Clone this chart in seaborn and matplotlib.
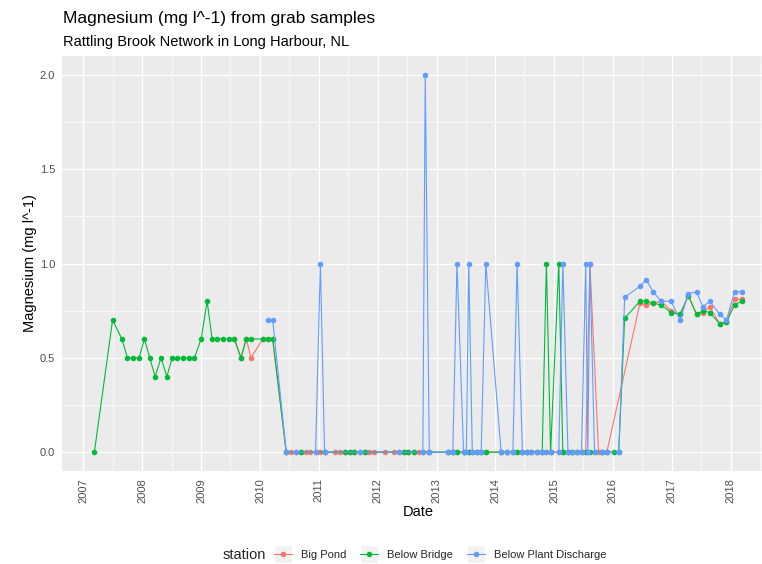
import numpy as np
import pandas as pd
import matplotlib
matplotlib.use("Agg")
import matplotlib.pyplot as plt
import matplotlib.dates as mdates
from matplotlib.lines import Line2D
from matplotlib.patches import Rectangle
import seaborn as sns

# ---------------- data ----------------
stations = ["Big Pond", "Below Bridge", "Below Plant Discharge"]
colors = ["#F8766D", "#00BA38", "#619CFF"]

below_bridge_dates = [
    "2007-03-10", "2007-07-01", "2007-08-28", "2007-10-01", "2007-11-06", "2007-12-12",
    "2008-01-15", "2008-02-17", "2008-03-21", "2008-04-27", "2008-06-02", "2008-07-05",
    "2008-08-07", "2008-09-12", "2008-10-19", "2008-11-20", "2009-01-01", "2009-02-07",
    "2009-03-10", "2009-04-12", "2009-05-19", "2009-06-24", "2009-07-26", "2009-09-05",
    "2009-10-08", "2009-11-06", "2010-01-19", "2010-02-17", "2010-03-21", "2010-06-13",
    "2010-09-14", "2011-02-06", "2011-06-14", "2011-07-13", "2011-08-10", "2011-10-12",
    "2012-06-13", "2012-07-11", "2012-08-15", "2012-11-17",
    "2013-03-15", "2013-04-12", "2013-05-08", "2013-06-18", "2013-07-20", "2013-08-11",
    "2013-09-12", "2013-10-05", "2013-11-03", "2014-02-06", "2014-03-12", "2014-04-20",
    "2014-05-16", "2014-06-18", "2014-07-16", "2014-08-13", "2014-09-17", "2014-10-19",
    "2014-11-14", "2014-12-10", "2015-01-30", "2015-02-24",
    "2015-03-28", "2015-04-22", "2015-05-20", "2015-06-20", "2015-07-16", "2015-08-11",
    "2015-09-09", "2015-10-28", "2015-11-24", "2016-01-10", "2016-02-06",
    "2016-03-14", "2016-06-17", "2016-07-26", "2016-09-06", "2016-10-27", "2016-12-27",
    "2017-02-21", "2017-04-13", "2017-06-03", "2017-07-13", "2017-08-24", "2017-10-26",
    "2017-12-06", "2018-01-25", "2018-03-10",
]
below_bridge_mg = [
    0.0, 0.7, 0.6, 0.5, 0.5, 0.5,
    0.6, 0.5, 0.4, 0.5, 0.4, 0.5,
    0.5, 0.5, 0.5, 0.5, 0.6, 0.8,
    0.6, 0.6, 0.6, 0.6, 0.6, 0.5,
    0.6, 0.6, 0.6, 0.6, 0.6, 0.0,
    0.0, 0.0, 0.0, 0.0, 0.0, 0.0,
    0.0, 0.0, 0.0, 0.0,
    0.0, 0.0, 0.0, 0.0, 0.0, 0.0,
    0.0, 0.0, 0.0, 0.0, 0.0, 0.0,
    0.0, 0.0, 0.0, 0.0, 0.0, 0.0,
    1.0, 0.0, 1.0, 0.0,
    0.0, 0.0, 0.0, 0.0, 0.0, 0.0,
    0.0, 0.0, 0.0, 0.0, 0.0,
    0.71, 0.80, 0.80, 0.79, 0.78, 0.74,
    0.73, 0.83, 0.73, 0.75, 0.74, 0.68,
    0.69, 0.78, 0.80,
]

big_pond_dates = [
    "2009-07-26", "2009-09-05", "2009-10-08", "2009-11-06", "2010-01-19", "2010-02-17",
    "2010-03-21", "2010-06-13", "2010-07-14", "2010-08-12", "2010-09-14", "2010-10-13",
    "2010-11-10", "2010-12-12", "2011-01-11", "2011-02-06", "2011-04-14", "2011-05-12",
    "2011-06-14", "2011-07-13", "2011-08-10", "2011-09-14", "2011-10-12", "2011-11-09",
    "2011-12-07", "2012-02-15", "2012-04-11", "2012-05-16", "2012-06-13", "2012-07-11",
    "2012-08-15", "2012-09-12", "2012-10-08", "2012-11-17", "2013-03-15", "2013-04-12",
    "2013-05-08", "2013-06-18", "2013-07-20", "2013-08-11", "2013-09-12", "2013-10-05",
    "2013-11-03", "2014-02-06", "2014-03-12", "2014-04-20", "2014-05-16", "2014-06-18",
    "2014-07-16", "2014-08-13", "2014-09-17", "2014-10-19", "2014-11-14", "2014-12-10",
    "2015-01-30", "2015-02-24", "2015-03-28", "2015-04-22", "2015-05-20", "2015-06-20",
    "2015-07-16", "2015-08-11", "2015-10-04", "2015-10-28", "2015-11-24", "2016-06-17",
    "2016-07-26", "2016-09-06", "2016-10-27", "2016-12-27", "2017-02-21", "2017-04-13",
    "2017-06-03", "2017-07-13", "2017-08-24", "2017-10-26", "2017-12-06", "2018-01-25",
    "2018-03-10",
]
big_pond_mg = [
    0.6, 0.5, 0.6, 0.5, 0.6, 0.6,
    0.6, 0.0, 0.0, 0.0, 0.0, 0.0,
    0.0, 0.0, 0.0, 0.0, 0.0, 0.0,
    0.0, 0.0, 0.0, 0.0, 0.0, 0.0,
    0.0, 0.0, 0.0, 0.0, 0.0, 0.0,
    0.0, 0.0, 0.0, 0.0, 0.0, 0.0,
    0.0, 0.0, 0.0, 0.0, 0.0, 0.0,
    0.0, 0.0, 0.0, 0.0, 0.0, 0.0,
    0.0, 0.0, 0.0, 0.0, 0.0, 0.0,
    0.0, 0.0, 0.0, 0.0, 0.0, 0.0,
    0.0, 1.0, 0.0, 0.0, 0.0, 0.79,
    0.78, 0.79, 0.80, 0.75, 0.73, 0.83,
    0.73, 0.74, 0.77, 0.68, 0.69, 0.81,
    0.81,
]

plant_discharge_dates = [
    "2010-02-17", "2010-03-21", "2010-06-13", "2010-08-12", "2010-12-12", "2011-01-11",
    "2011-02-06", "2011-09-14", "2012-05-16", "2012-10-08", "2012-10-23", "2012-11-17",
    "2013-03-15", "2013-04-12", "2013-05-08", "2013-06-18", "2013-07-05", "2013-07-20",
    "2013-08-11", "2013-09-12", "2013-10-05", "2013-11-03", "2014-02-06", "2014-03-12",
    "2014-04-20", "2014-05-16", "2014-06-18", "2014-07-16", "2014-08-13", "2014-09-17",
    "2014-10-19", "2014-11-14", "2014-12-10", "2015-01-30", "2015-02-24", "2015-03-28",
    "2015-04-22", "2015-05-20", "2015-06-20", "2015-07-16", "2015-07-29", "2015-08-11",
    "2015-09-09", "2015-10-28", "2015-11-24", "2016-02-06", "2016-03-14", "2016-06-17",
    "2016-07-26", "2016-09-06", "2016-10-27", "2016-12-27", "2017-02-21", "2017-04-13",
    "2017-06-03", "2017-07-13", "2017-08-24", "2017-10-26", "2017-12-06", "2018-01-25",
    "2018-03-10",
]
plant_discharge_mg = [
    0.7, 0.7, 0.0, 0.0, 0.0, 1.0,
    0.0, 0.0, 0.0, 0.0, 2.0, 0.0,
    0.0, 0.0, 1.0, 0.0, 0.0, 1.0,
    0.0, 0.0, 0.0, 1.0, 0.0, 0.0,
    0.0, 1.0, 0.0, 0.0, 0.0, 0.0,
    0.0, 0.0, 0.0, 0.0, 1.0, 0.0,
    0.0, 0.0, 0.0, 1.0, 0.0, 1.0,
    0.0, 0.0, 0.0, 0.0, 0.82, 0.88,
    0.915, 0.85, 0.80, 0.80, 0.70, 0.84,
    0.85, 0.77, 0.80, 0.73, 0.70, 0.85,
    0.85,
]

title = "Magnesium (mg l^-1) from grab samples"
subtitle = "Rattling Brook Network in Long Harbour, NL"
y_label = "Magnesium (mg l^-1)"
x_label = "Date"
legend_title = "station"
y_ticks = [0.0, 0.5, 1.0, 1.5, 2.0]
y_tick_labels = ["0.0", "0.5", "1.0", "1.5", "2.0"]

# ---------------- assemble table ----------------
frames = []
for name, d, v in [
    ("Big Pond", big_pond_dates, big_pond_mg),
    ("Below Bridge", below_bridge_dates, below_bridge_mg),
    ("Below Plant Discharge", plant_discharge_dates, plant_discharge_mg),
]:
    assert len(d) == len(v), name
    frames.append(pd.DataFrame({"date": pd.to_datetime(d), "mg": v, "station": name}))
df = pd.concat(frames, ignore_index=True)

# ---------------- figure ----------------
sns.set_style("darkgrid", {"axes.facecolor": "#EBEBEB", "grid.color": "white"})
plt.rcParams["font.family"] = ["Liberation Sans", "DejaVu Sans"]

W, H = 762, 564
fig = plt.figure(figsize=(W / 100, H / 100), dpi=100)
fig.patch.set_facecolor("white")
L, R, T, B = 62, 774, 56, 471
ax = fig.add_axes([L / W, 1 - B / H, (R - L) / W, (B - T) / H])

palette = dict(zip(stations, colors))
sns.lineplot(
    data=df, x="date", y="mg", hue="station", hue_order=stations, palette=palette,
    estimator=None, sort=True, marker="o", markersize=4, markeredgewidth=0,
    linewidth=0.8, legend=False, ax=ax,
)

xmin = mdates.date2num(df["date"].min())
xmax = mdates.date2num(df["date"].max())
pad = 0.05 * (xmax - xmin)
ax.set_xlim(xmin - pad, xmax + pad)
ax.set_ylim(-0.1, 2.1)

ax.xaxis.set_major_locator(mdates.YearLocator())
ax.xaxis.set_major_formatter(mdates.DateFormatter("%Y"))
ax.xaxis.set_minor_locator(mdates.MonthLocator(bymonth=7))
ax.set_yticks(y_ticks)
ax.set_yticklabels(y_tick_labels)
ax.set_yticks([0.25, 0.75, 1.25, 1.75], minor=True)

ax.grid(which="major", color="white", linewidth=1.0)
ax.grid(which="minor", color="white", linewidth=0.5)
ax.set_axisbelow(True)
for s in ax.spines.values():
    s.set_visible(False)

ax.tick_params(axis="both", which="major", length=3, width=0.7, color="#333333",
               labelsize=8, labelcolor="#4D4D4D", pad=2)
ax.tick_params(axis="both", which="minor", length=0)
ax.tick_params(axis="x", which="major", labelrotation=90)
for lab in ax.get_xticklabels():
    lab.set_verticalalignment("top")

ax.set_xlabel("")
ax.set_ylabel("")
fig.text(30 / W, 1 - ((T + B) / 2) / H, y_label, rotation=90, ha="center",
         va="center", fontsize=10.5, color="black")
fig.text(((L + R) / 2) / W, 1 - 512 / H, x_label, ha="center", va="center",
         fontsize=10.5, color="black")

fig.text(63 / W, 1 - 19 / H, title, ha="left", va="center", fontsize=12.5, color="black")
fig.text(63 / W, 1 - 42 / H, subtitle, ha="left", va="center", fontsize=10.5, color="black")

# legend (ggplot-like, bottom, horizontal)
fig.text(223 / W, 1 - 555 / H, legend_title, ha="left", va="center", fontsize=10.5)
handles = [Line2D([0], [0], color=c, lw=0.8, marker="o", markersize=4,
                  markeredgewidth=0) for c in colors]
leg = fig.legend(handles, stations, loc="center left", bbox_to_anchor=(274 / W, 1 - 555 / H),
                 ncol=3, frameon=False, fontsize=8, handlelength=1.6, handletextpad=0.8,
                 columnspacing=1.3, borderaxespad=0, borderpad=0)
fig.canvas.draw()
for ln in leg.get_lines():
    bb = ln.get_window_extent(fig.canvas.get_renderer())
    cx, cy = (bb.x0 + bb.x1) / 2, (bb.y0 + bb.y1) / 2
    fig.patches.append(Rectangle(((cx - 9) / W, (cy - 9) / H), 18 / W, 18 / H,
                                 transform=fig.transFigure, facecolor="#F2F2F2",
                                 edgecolor="white", zorder=0))

fig.savefig("out.png", dpi=100)
